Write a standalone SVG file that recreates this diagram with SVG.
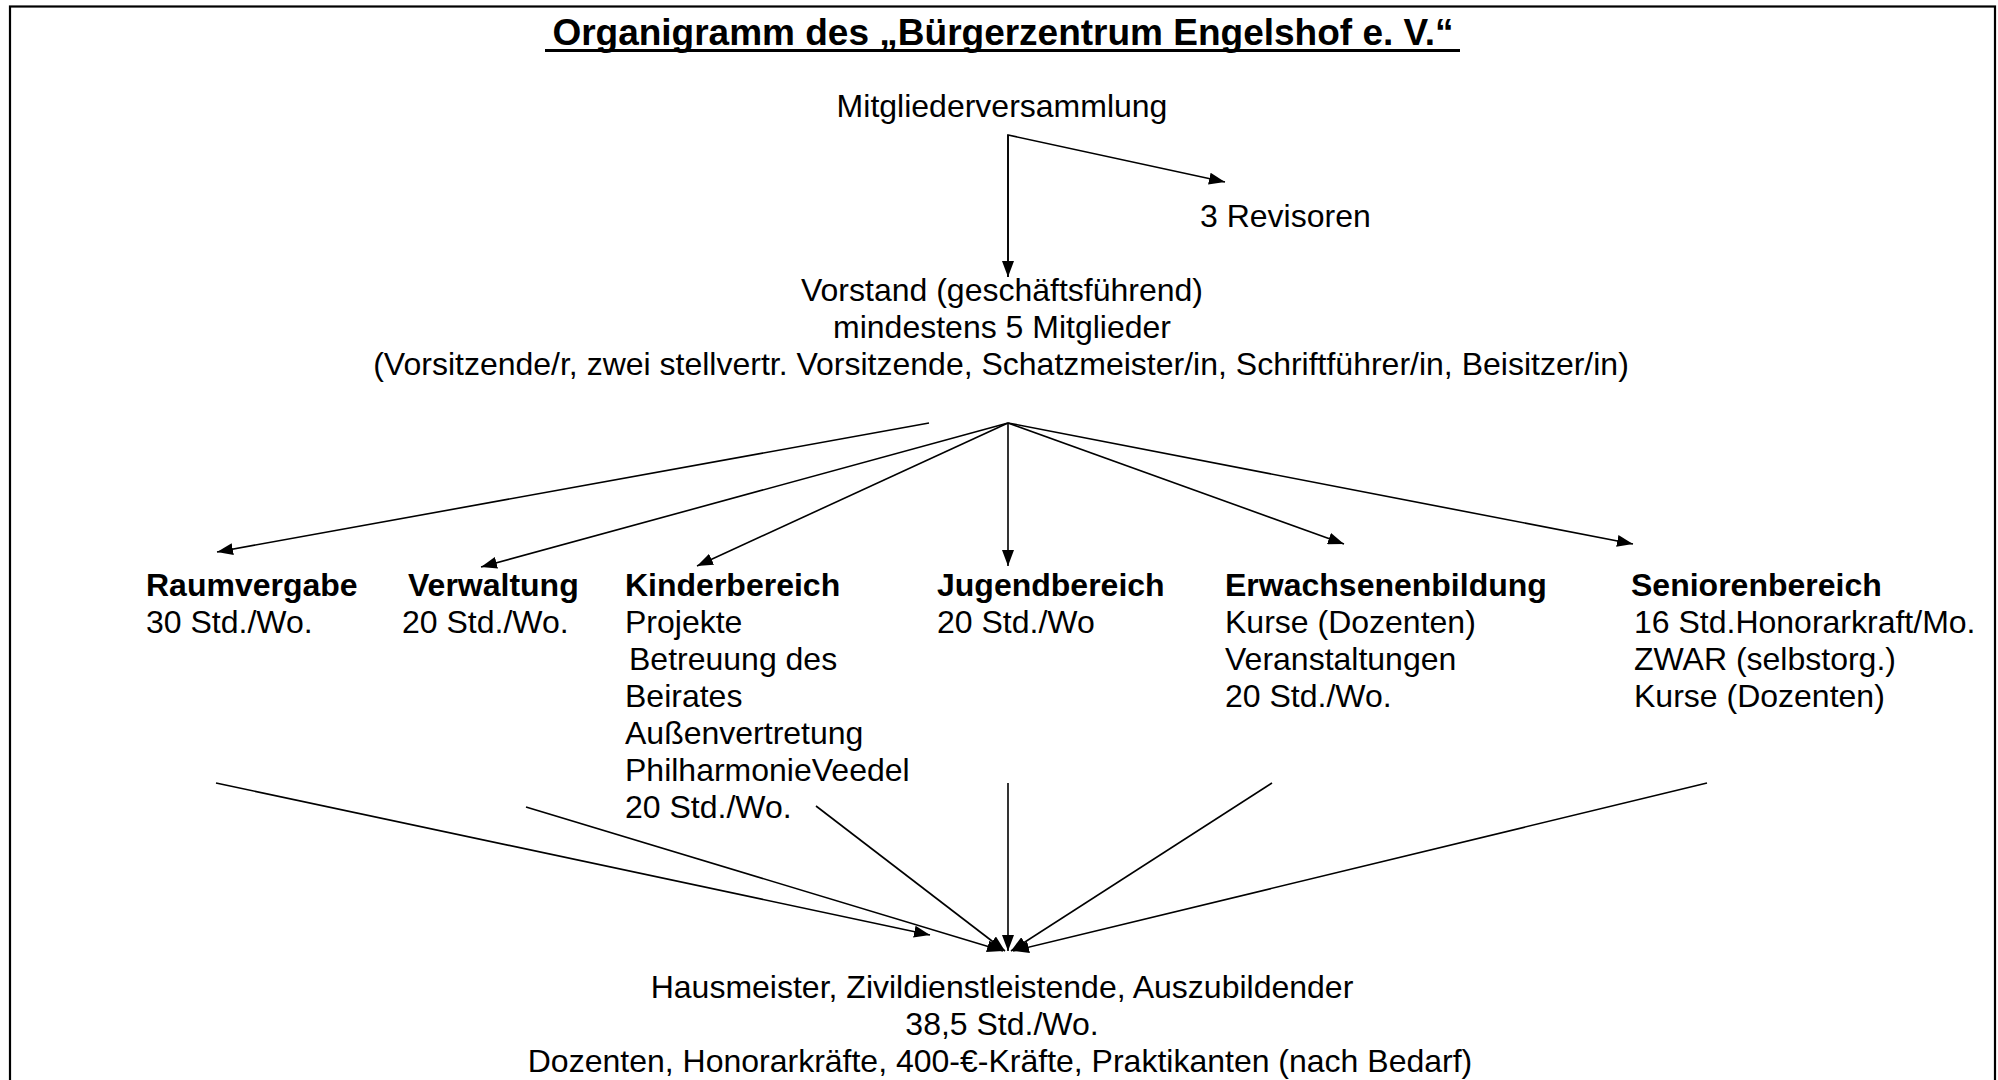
<svg xmlns="http://www.w3.org/2000/svg" width="1998" height="1080" viewBox="0 0 1998 1080">
<style>
  text { font-family: "Liberation Sans", Arial, sans-serif; font-size: 32px; fill: #000; }
  .c { text-anchor: middle; }
  .b { font-weight: bold; }
  .title { font-weight: bold; font-size: 37px; text-anchor: middle; }
  .ln { stroke: #000; stroke-width: 1.6; fill: none; }
</style>
<defs>
  <marker id="ah" viewBox="0 0 16 12" refX="16" refY="6" markerWidth="16" markerHeight="12" orient="auto" markerUnits="userSpaceOnUse">
    <path d="M0,0 L16,6 L0,12 z" fill="#000"/>
  </marker>
</defs>
<rect x="0" y="0" width="1998" height="1080" fill="#fff"/>
<rect x="10" y="6.5" width="1985" height="1100" fill="none" stroke="#000" stroke-width="2.2"/>

<g id="title">
  <text class="title" x="1003" y="45">Organigramm des „Bürgerzentrum Engelshof e. V.“</text>
  <line x1="545" y1="50.5" x2="1460" y2="50.5" stroke="#000" stroke-width="3"/>
</g>

<g id="mitgliederversammlung"><text class="c" x="1002" y="117">Mitgliederversammlung</text></g>
<g id="revisoren"><text x="1200" y="227">3 Revisoren</text></g>
<g id="vorstand">
  <text class="c" x="1002" y="301">Vorstand (geschäftsführend)</text>
  <text class="c" x="1002" y="338">mindestens 5 Mitglieder</text>
  <text class="c" x="1001" y="375">(Vorsitzende/r, zwei stellvertr. Vorsitzende, Schatzmeister/in, Schriftführer/in, Beisitzer/in)</text>
</g>

<g id="raumvergabe">
  <text class="b" x="146" y="596">Raumvergabe</text>
  <text x="146" y="633">30 Std./Wo.</text>
</g>
<g id="verwaltung">
  <text class="b" x="408" y="596">Verwaltung</text>
  <text x="402" y="633">20 Std./Wo.</text>
</g>
<g id="kinderbereich">
  <text class="b" x="625" y="596">Kinderbereich</text>
  <text x="625" y="633">Projekte</text>
  <text x="629" y="670">Betreuung des</text>
  <text x="625" y="707">Beirates</text>
  <text x="625" y="744">Außenvertretung</text>
  <text x="625" y="781">PhilharmonieVeedel</text>
  <text x="625" y="818">20 Std./Wo.</text>
</g>
<g id="jugendbereich">
  <text class="b" x="937" y="596">Jugendbereich</text>
  <text x="937" y="633">20 Std./Wo</text>
</g>
<g id="erwachsenenbildung">
  <text class="b" x="1225" y="596">Erwachsenenbildung</text>
  <text x="1225" y="633">Kurse (Dozenten)</text>
  <text x="1225" y="670">Veranstaltungen</text>
  <text x="1225" y="707">20 Std./Wo.</text>
</g>
<g id="seniorenbereich">
  <text class="b" x="1631" y="596">Seniorenbereich</text>
  <text x="1634" y="633">16 Std.Honorarkraft/Mo.</text>
  <text x="1634" y="670">ZWAR (selbstorg.)</text>
  <text x="1634" y="707">Kurse (Dozenten)</text>
</g>

<g id="personal">
  <text class="c" x="1002" y="998">Hausmeister, Zivildienstleistende, Auszubildender</text>
  <text class="c" x="1002" y="1035">38,5 Std./Wo.</text>
  <text class="c" x="1000" y="1072">Dozenten, Honorarkräfte, 400-€-Kräfte, Praktikanten (nach Bedarf)</text>
</g>

<g id="connectors">
  <polyline class="ln" points="1008,277 1008,135 1225,182" marker-end="url(#ah)"/>
  <line class="ln" x1="1008" y1="135" x2="1008" y2="277" marker-end="url(#ah)"/>

  <line class="ln" x1="929" y1="423" x2="217" y2="552" marker-end="url(#ah)"/>
  <line class="ln" x1="1008" y1="423" x2="481" y2="567" marker-end="url(#ah)"/>
  <line class="ln" x1="1008" y1="423" x2="697" y2="566" marker-end="url(#ah)"/>
  <line class="ln" x1="1008" y1="423" x2="1008" y2="566" marker-end="url(#ah)"/>
  <line class="ln" x1="1008" y1="423" x2="1344" y2="544" marker-end="url(#ah)"/>
  <line class="ln" x1="1008" y1="423" x2="1633" y2="544" marker-end="url(#ah)"/>

  <line class="ln" x1="216" y1="783" x2="930" y2="935" marker-end="url(#ah)"/>
  <line class="ln" x1="526" y1="807" x2="1003" y2="951" marker-end="url(#ah)"/>
  <line class="ln" x1="816" y1="806" x2="1005" y2="951" marker-end="url(#ah)"/>
  <line class="ln" x1="1008" y1="783" x2="1008" y2="951" marker-end="url(#ah)"/>
  <line class="ln" x1="1272" y1="783" x2="1011" y2="951" marker-end="url(#ah)"/>
  <line class="ln" x1="1707" y1="783" x2="1013" y2="951" marker-end="url(#ah)"/>
</g>
</svg>
